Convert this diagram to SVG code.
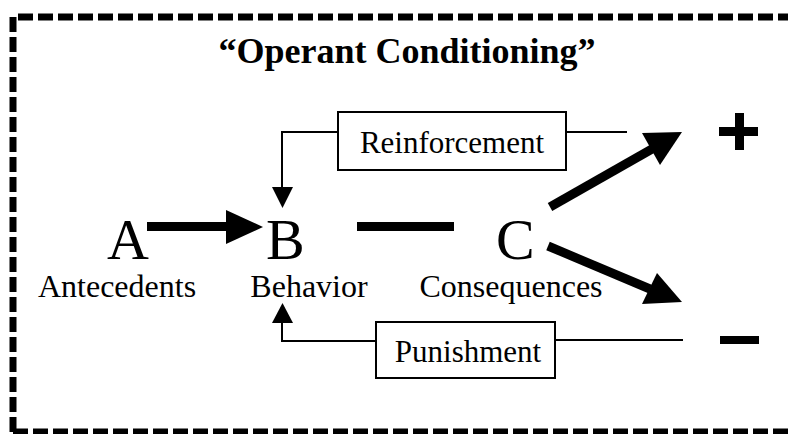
<svg xmlns="http://www.w3.org/2000/svg" width="788" height="434" viewBox="0 0 788 434">
<style>
text{font-family:"Liberation Serif","Times New Roman",serif;fill:#000}
.big{font-size:58px}
.lbl{font-size:32px}
.box{fill:#fff;stroke:#000;stroke-width:2}
.thin{fill:none;stroke:#000;stroke-width:2}
.thick{fill:none;stroke:#000;stroke-width:9}
.frame{fill:none;stroke:#000;stroke-width:7;stroke-dasharray:15 5}
</style>
<rect width="788" height="434" fill="#fff"/>
<path class="frame" d="M13,432 L13,17 L800,17 M13,432 L800,432"/>
<text x="407" y="63" text-anchor="middle" font-size="36" font-weight="bold">“Operant Conditioning”</text>
<g id="connectors">
<path class="thin" d="M338,132 L282,132 L282,188"/>
<path d="M272,187 L293,187 L282.5,208 Z"/>
<path class="thin" d="M566,132 L627,132"/>
<path class="thin" d="M376,341 L282,341 L282,322"/>
<path d="M272,323 L293,323 L282.5,303 Z"/>
<path class="thin" d="M555,340 L683,340"/>
<path class="thick" d="M147,226.5 L228,226.5"/>
<path d="M226,210 L263,227 L226,244 Z"/>
<path class="thick" d="M357,226.5 L454,226.5"/>
<path class="thick" d="M550,207 L652,149"/>
<path d="M642,133 L682,132 L660,165 Z"/>
<path class="thick" d="M548,246 L650,289"/>
<path d="M657,273 L682,302 L642,304 Z"/>
</g>
<g id="node-A"><text class="big" x="107" y="259">A</text></g>
<g id="node-B"><text class="big" x="266" y="259">B</text></g>
<g id="node-C"><text class="big" x="496" y="259">C</text></g>
<g id="label-antecedents"><text class="lbl" x="117" y="297" text-anchor="middle">Antecedents</text></g>
<g id="label-behavior"><text class="lbl" x="309" y="297" text-anchor="middle">Behavior</text></g>
<g id="label-consequences"><text class="lbl" x="511" y="297" text-anchor="middle">Consequences</text></g>
<g id="node-reinforcement"><rect class="box" x="338" y="112" width="228" height="58"/><text x="452" y="153" text-anchor="middle" font-size="31">Reinforcement</text></g>
<g id="node-punishment"><rect class="box" x="376" y="322" width="179" height="56"/><text x="468" y="362" text-anchor="middle" font-size="31">Punishment</text></g>
<g id="node-plus"><rect x="719" y="127" width="39" height="9"/><rect x="735" y="113" width="9" height="37"/></g>
<g id="node-minus"><rect x="720" y="336" width="39" height="8"/></g>
</svg>
